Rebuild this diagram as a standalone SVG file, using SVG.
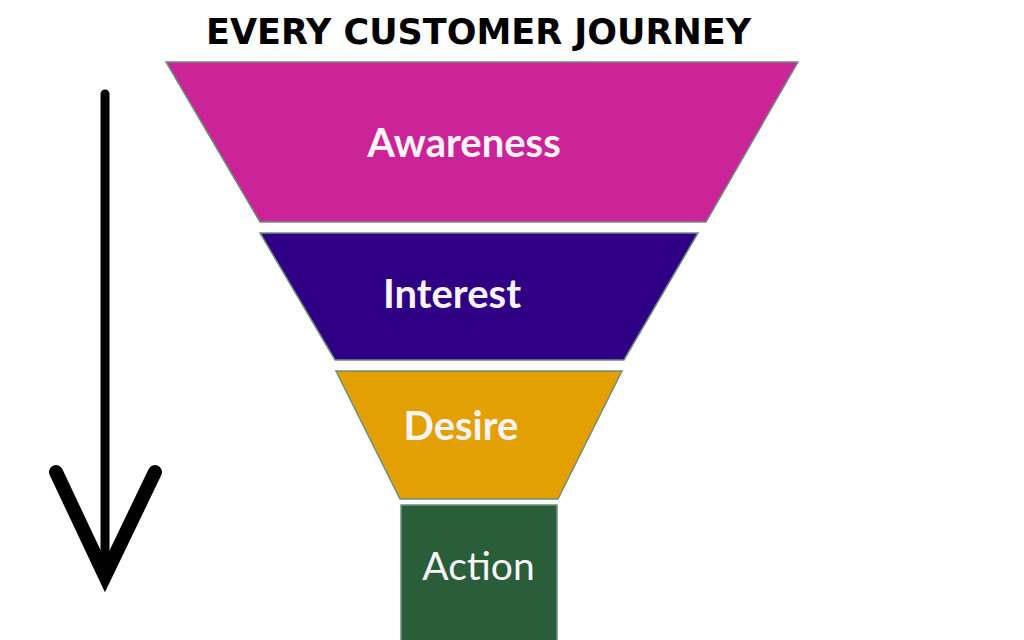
<svg xmlns="http://www.w3.org/2000/svg" width="1024" height="640" viewBox="0 0 1024 640">
<style>
.stage{stroke:#6f8f7c;stroke-width:1.5}
.lbl{font-family:Lato,"Open Sans",sans-serif;font-weight:bold;fill:#f8f4f8;text-anchor:middle}
.title{font-family:"DejaVu Sans",sans-serif;font-weight:bold;font-size:35px;fill:#000;text-anchor:middle}
.arrow{stroke:#000;fill:none;stroke-linecap:round;stroke-linejoin:miter}
</style>
<rect width="1024" height="640" fill="#fff"/>
<text class="title" x="478.5" y="44">EVERY CUSTOMER JOURNEY</text>
<g id="awareness">
<polygon class="stage" points="166,62 798,62 706,222 260,222" fill="#ca2498"/>
<text class="lbl" x="464" y="157" font-size="40">Awareness</text>
</g>
<g id="interest">
<polygon class="stage" points="260,233 698,233 624,360 335,360" fill="#300084"/>
<text class="lbl" x="452" y="308" font-size="40">Interest</text>
</g>
<g id="desire">
<polygon class="stage" points="336,371 622,371 558,499 400,499" fill="#e2a003"/>
<text class="lbl" x="461" y="440" font-size="40">Desire</text>
</g>
<g id="action">
<rect class="stage" x="401" y="505" width="156" height="140" fill="#2a5e3a"/>
<text class="lbl" x="478.5" y="580" font-size="39" style="font-weight:normal">Action</text>
</g>
<g id="connectors">
<line class="arrow" x1="105" y1="94" x2="105" y2="576" stroke-width="9"/>
<polyline class="arrow" points="56,472 105,576 155,472" stroke-width="14"/>
</g>
</svg>
